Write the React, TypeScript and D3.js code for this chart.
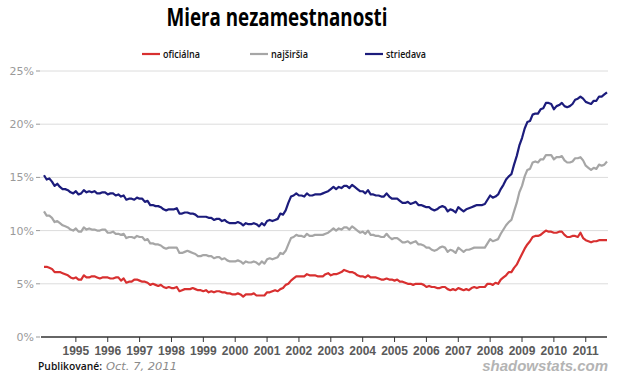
import React from "react";
import * as d3 from "d3";

const startYear = 1994;
const yearTicks = [1995, 1996, 1997, 1998, 1999, 2000, 2001, 2002, 2003, 2004, 2005, 2006, 2007, 2008, 2009, 2010, 2011];
const yTicks = [0, 5, 10, 15, 20, 25];

// monthly, Jan 1994 .. Sep 2011
const oficialna = [
  6.6, 6.6, 6.5, 6.4, 6.1, 6.1, 6.1, 6.0, 5.9, 5.8, 5.6, 5.5,
  5.6, 5.4, 5.4, 5.8, 5.6, 5.6, 5.7, 5.7, 5.6, 5.5, 5.6, 5.6,
  5.6, 5.5, 5.5, 5.6, 5.6, 5.3, 5.5, 5.1, 5.2, 5.2, 5.4, 5.4,
  5.3, 5.2, 5.2, 5.1, 4.9, 5.0, 4.9, 4.8, 4.9, 4.7, 4.6, 4.7,
  4.6, 4.6, 4.7, 4.3, 4.4, 4.5, 4.5, 4.5, 4.6, 4.5, 4.4, 4.4,
  4.3, 4.4, 4.2, 4.3, 4.2, 4.3, 4.3, 4.2, 4.2, 4.1, 4.1, 4.0,
  4.0, 4.1, 4.0, 3.8, 4.0, 4.0, 4.0, 4.1, 3.9, 3.9, 3.9, 3.9,
  4.2, 4.2, 4.3, 4.4, 4.3, 4.5, 4.6, 4.9, 5.0, 5.3, 5.5, 5.7,
  5.7, 5.7, 5.7, 5.9, 5.8, 5.8, 5.8, 5.7, 5.7, 5.7, 5.9, 6.0,
  5.8, 5.9, 5.9, 6.0, 6.1, 6.3, 6.2, 6.1, 6.1, 6.0, 5.8, 5.7,
  5.7, 5.6, 5.8, 5.6, 5.6, 5.6, 5.5, 5.4, 5.4, 5.5, 5.4, 5.4,
  5.3, 5.4, 5.2, 5.2, 5.1, 5.0, 5.0, 4.9, 5.0, 5.0, 5.0, 4.9,
  4.7, 4.8, 4.7, 4.7, 4.6, 4.6, 4.7, 4.7, 4.5, 4.4, 4.5, 4.4,
  4.6, 4.5, 4.4, 4.5, 4.4, 4.6, 4.7, 4.6, 4.7, 4.7, 4.7, 5.0,
  5.0, 4.9, 5.1, 5.0, 5.4, 5.6, 5.8, 6.1, 6.1, 6.5, 6.8, 7.3,
  7.8, 8.3, 8.7, 9.0, 9.4, 9.5, 9.5, 9.6, 9.8, 10.0, 9.9, 9.9,
  9.8, 9.8, 9.9, 9.9, 9.6, 9.4, 9.4, 9.5, 9.5, 9.4, 9.8, 9.3,
  9.1, 9.0, 8.9, 9.0, 9.0, 9.1, 9.1, 9.1, 9.1,
];

const najsirsia = [
  11.8, 11.4, 11.4, 11.2, 10.8, 10.9, 10.7, 10.5, 10.4, 10.3, 10.1, 10.0,
  10.2, 9.9, 9.9, 10.3, 10.1, 10.2, 10.1, 10.1, 10.0, 10.0, 10.1, 10.1,
  9.8, 9.8, 9.9, 9.7, 9.7, 9.6, 9.7, 9.3, 9.4, 9.4, 9.3, 9.5,
  9.4, 9.4, 9.1, 9.2, 8.8, 8.8, 8.7, 8.7, 8.6, 8.4, 8.3, 8.4,
  8.4, 8.4, 8.4, 7.9, 7.9, 8.0, 8.1, 8.0, 7.9, 7.8, 7.6, 7.6,
  7.7, 7.7, 7.6, 7.6, 7.4, 7.5, 7.5, 7.3, 7.4, 7.2, 7.1, 7.1,
  7.1, 7.2, 7.1, 6.9, 7.1, 7.0, 7.0, 7.1, 7.0, 6.8, 7.1, 6.9,
  7.3, 7.4, 7.3, 7.4, 7.5, 7.9, 7.8, 8.1, 8.7, 9.3, 9.4, 9.6,
  9.5, 9.5, 9.4, 9.7, 9.5, 9.5, 9.6, 9.6, 9.6, 9.6, 9.7, 9.8,
  10.0, 10.2, 10.0, 10.2, 10.1, 10.3, 10.3, 10.1, 10.4, 10.2, 10.0, 9.8,
  9.9, 9.7, 10.0, 9.6, 9.6, 9.5, 9.5, 9.4, 9.4, 9.7, 9.4, 9.2,
  9.3, 9.3, 9.1, 8.9, 8.9, 9.0, 8.8, 8.9, 9.0, 8.7, 8.7, 8.6,
  8.4, 8.4, 8.2, 8.1, 8.2, 8.4, 8.5, 8.4, 8.0, 8.2, 8.1, 7.9,
  8.4, 8.2, 8.0, 8.2, 8.2, 8.3, 8.4, 8.4, 8.4, 8.4, 8.4, 8.8,
  9.2, 9.0, 9.1, 9.2, 9.7, 10.1, 10.5, 10.8, 11.0, 11.8, 12.6, 13.6,
  14.2, 15.1, 15.7, 15.8, 16.4, 16.5, 16.4, 16.7, 16.7, 17.1, 17.1, 17.1,
  16.7, 16.9, 16.9, 17.0, 16.6, 16.4, 16.4, 16.5, 16.8, 16.8, 16.9, 16.6,
  16.1, 15.9, 15.7, 15.9, 15.8, 16.2, 16.1, 16.2, 16.5,
];

const striedava = [
  15.2, 14.8, 14.9, 14.6, 14.2, 14.4, 14.1, 13.9, 13.9, 13.8, 13.6, 13.5,
  13.7, 13.4, 13.5, 13.8, 13.6, 13.7, 13.6, 13.7, 13.5, 13.5, 13.6, 13.6,
  13.4, 13.5, 13.5, 13.3, 13.4, 13.2, 13.3, 12.9, 13.0, 13.0, 12.9, 13.1,
  13.0, 13.0, 12.7, 12.8, 12.4, 12.4, 12.3, 12.3, 12.2, 12.0, 11.9, 12.0,
  12.0, 12.0, 12.1, 11.6, 11.6, 11.7, 11.7, 11.6, 11.6, 11.5, 11.3, 11.3,
  11.3, 11.3, 11.2, 11.2, 11.0, 11.1, 11.1, 10.9, 11.0, 10.8, 10.7, 10.7,
  10.7, 10.8, 10.7, 10.5, 10.7, 10.6, 10.6, 10.7, 10.6, 10.4, 10.7, 10.5,
  10.9, 11.0, 10.9, 11.0, 11.1, 11.6, 11.5, 11.9, 12.6, 13.2, 13.3, 13.5,
  13.3, 13.3, 13.2, 13.5, 13.3, 13.3, 13.4, 13.4, 13.4, 13.5, 13.6, 13.7,
  13.9, 14.1, 13.9, 14.1, 14.0, 14.2, 14.2, 14.0, 14.3, 14.1, 13.9, 13.7,
  13.7, 13.5, 13.8, 13.4, 13.4, 13.3, 13.3, 13.2, 13.2, 13.5, 13.2, 13.0,
  13.0, 13.0, 12.8, 12.6, 12.6, 12.7, 12.5, 12.6, 12.7, 12.4, 12.4, 12.3,
  12.2, 12.2, 12.0, 11.9, 12.0, 12.2, 12.3, 12.2, 11.8, 12.0, 11.9, 11.7,
  12.2, 12.0, 11.8, 12.0, 12.1, 12.2, 12.3, 12.4, 12.4, 12.4, 12.5, 12.9,
  13.3, 13.1, 13.2, 13.4, 13.9, 14.3, 14.8, 15.1, 15.3, 16.2, 17.0, 18.0,
  18.7, 19.6, 20.2, 20.3, 20.9, 21.0, 21.0, 21.4, 21.5, 22.0, 22.0, 21.9,
  21.4, 21.7, 21.8, 22.0, 21.7, 21.6, 21.7, 21.9, 22.3, 22.4, 22.6, 22.4,
  22.1, 22.0, 21.9, 22.2, 22.2, 22.6, 22.6, 22.8, 23.0,
];

const seriesNames = ["oficiálna", "najširšia", "striedava"];
const seriesColors = ["#d83030", "#a6a6a6", "#1c1c7c"];

export default function App() {
  const W = 620;
  const H = 378;
  const x = d3.scaleLinear().domain([startYear, startYear + (oficialna.length - 1) / 12]).range([44, 607]);
  const y = d3.scaleLinear().domain([0, 25]).range([337, 71]);
  const line = d3
    .line<number>()
    .x((_, i) => x(startYear + i / 12))
    .y((d) => y(d));
  const all = [oficialna, najsirsia, striedava];
  const legendX = [142, 250, 365];
  const legendW = [37, 37, 40];

  return (
    <svg width={W} height={H} style={{ position: "absolute", left: 0, top: 0, background: "#fff" }}>
      <text x={277} y={26} textAnchor="middle" fontFamily="'Open Sans', 'Liberation Sans', sans-serif" fontWeight="bold" fontSize={25} textLength={221} lengthAdjust="spacingAndGlyphs" fill="#000">
        Miera nezamestnanosti
      </text>
      {seriesNames.map((n, i) => (
        <g key={n}>
          <line x1={legendX[i]} x2={legendX[i] + 18} y1={54} y2={54} stroke={seriesColors[i]} strokeWidth={2.2} />
          <text x={legendX[i] + 21} y={58} fontFamily="'Open Sans', 'Liberation Sans', sans-serif" fontWeight="600" fontSize={11} textLength={legendW[i]} lengthAdjust="spacingAndGlyphs" fill="#111">
            {n}
          </text>
        </g>
      ))}
      {yTicks.map((t) => (
        <g key={t}>
          {t > 0 && <line x1={40} x2={608} y1={y(t)} y2={y(t)} stroke="#dcdcdc" strokeWidth={1} />}
          <line x1={36} x2={40} y1={y(t)} y2={y(t)} stroke="#999" strokeWidth={1} />
          <text x={34} y={y(t) + 4} textAnchor="end" fontFamily="'DejaVu Sans', Verdana, sans-serif" fontSize={11} fill="#9a9a9a">
            {t}%
          </text>
        </g>
      ))}
      {all.map((s, i) => (
        <path key={i} d={line(s) || ""} fill="none" stroke={seriesColors[i]} strokeWidth={2.2} strokeLinejoin="round" />
      ))}
      <line x1={41} x2={607} y1={337} y2={337} stroke="#333" strokeWidth={1.5} />
      {yearTicks.map((yr) => (
        <g key={yr}>
          <line x1={x(yr)} x2={x(yr)} y1={337} y2={342} stroke="#333" strokeWidth={1} />
          <text x={x(yr)} y={355} textAnchor="middle" fontFamily="'Liberation Sans', Arial, sans-serif" fontWeight="bold" fontSize={12} fill="#5a5a5a">
            {yr}
          </text>
        </g>
      ))}
      <text x={38} y={370} fontFamily="'Open Sans', 'Liberation Sans', sans-serif" fontWeight="600" fontSize={11} textLength={64} lengthAdjust="spacingAndGlyphs" fill="#111">
        Publikované:
      </text>
      <text x={106} y={370} fontFamily="'DejaVu Sans', Verdana, sans-serif" fontStyle="italic" fontSize={11} textLength={71} lengthAdjust="spacingAndGlyphs" fill="#8a8a8a">
        Oct. 7, 2011
      </text>
      <text x={608} y={371} textAnchor="end" fontFamily="'Liberation Sans', Arial, sans-serif" fontWeight="bold" fontStyle="italic" fontSize={15} fill="#b4b4b4">
        shadowstats.com
      </text>
    </svg>
  );
}
